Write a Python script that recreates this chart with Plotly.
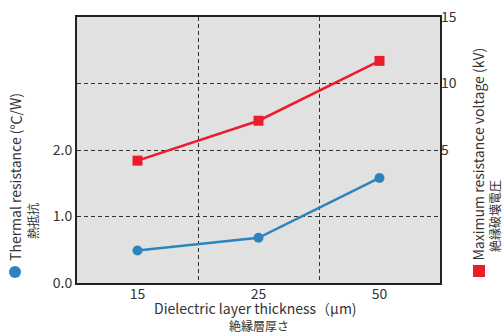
import plotly.graph_objects as go

categories = ["15", "25", "50"]
thermal_resistance = [0.49, 0.68, 1.58]
breakdown_voltage = [4.2, 7.2, 11.7]
left_ticks = [0, 1, 2, 3]
left_ticktext = ["0.0", "1.0", "2.0", ""]
right_ticks = [5, 10, 15]

W, H = 503, 333
L, R, T, B = 77, 440, 17, 283
FONT = "Noto Sans CJK JP"
TXT = "#333333"
BLUE = "#2b84be"
RED = "#ec1c2a"

def px(x):
    return (x - L) / (R - L)

def py(y):
    return (B - y) / (B - T)

xi = list(range(len(categories)))

fig = go.Figure()
fig.add_trace(go.Scatter(x=xi, y=thermal_resistance, mode="lines+markers",
                         line=dict(color=BLUE, width=2.5),
                         marker=dict(symbol="circle", size=10, color=BLUE),
                         yaxis="y", showlegend=False))
fig.add_trace(go.Scatter(x=xi, y=breakdown_voltage, mode="lines+markers",
                         line=dict(color=RED, width=2.5),
                         marker=dict(symbol="square", size=10, color=RED),
                         yaxis="y2", showlegend=False))

fig.update_layout(
    width=W, height=H,
    margin=dict(l=L, r=W - R, t=T, b=H - B, autoexpand=False),
    paper_bgcolor="white", plot_bgcolor="#e1e1e1",
    font=dict(family=FONT, size=14, color=TXT),
    xaxis=dict(range=[-0.5, 2.5], tickvals=xi, ticktext=categories,
               showgrid=False, zeroline=False, showline=True, mirror=True,
               linecolor="#222222", linewidth=2, ticks="", automargin=False,
               ticklabelstandoff=-3,
               tickfont=dict(size=14, color=TXT),
               minor=dict(tickvals=[0.5, 1.5], showgrid=True, gridcolor="#333333",
                          griddash="4px,3px", gridwidth=1, ticks="")),
    yaxis=dict(range=[0, 4], tickvals=left_ticks, ticktext=left_ticktext,
               showgrid=True, gridcolor="#333333", griddash="4px,3px", gridwidth=1,
               zeroline=False, showline=True, mirror=True, automargin=False,
               linecolor="#222222", linewidth=2, ticks="",
               tickfont=dict(size=14, color=TXT)),
    yaxis2=dict(range=[-5, 15], tickvals=right_ticks, overlaying="y", side="right",
                showgrid=False, zeroline=False, showline=False, ticks="",
                automargin=False, tickfont=dict(size=14, color=TXT)),
)

ann = [
    ("Thermal resistance (℃/W)", 15, 262, 14),
    ("熱抵抗", 32, 240, 12),
    ("Maximum resistance voltage (kV)", 477, 262, 14),
    ("絶縁破壊電圧", 494, 253, 12),
]
for text, x, y, s in ann:
    fig.add_annotation(text=text, xref="paper", yref="paper", x=px(x), y=py(y),
                       xanchor="center", yanchor="bottom", textangle=-90,
                       showarrow=False, borderpad=0,
                       font=dict(size=s, color=TXT, family=FONT))

fig.add_annotation(text="Dielectric layer thickness（μm)", xref="paper", yref="paper",
                   x=px(255), y=py(308), xanchor="center", yanchor="middle",
                   showarrow=False, borderpad=0,
                   font=dict(size=14, color=TXT, family=FONT))
fig.add_annotation(text="絶縁層厚さ", xref="paper", yref="paper",
                   x=px(259), y=py(325), xanchor="center", yanchor="middle",
                   showarrow=False, borderpad=0,
                   font=dict(size=12, color=TXT, family=FONT))

# legend glyphs
fig.add_shape(type="circle", xref="paper", yref="paper",
              x0=px(9), x1=px(21), y0=py(278), y1=py(266),
              fillcolor=BLUE, line=dict(width=0))
fig.add_shape(type="rect", xref="paper", yref="paper",
              x0=px(473), x1=px(485), y0=py(277), y1=py(265),
              fillcolor=RED, line=dict(width=0))

fig.write_html("out.html", config={"displayModeBar": False},
               post_script="document.body.style.margin='0';")
